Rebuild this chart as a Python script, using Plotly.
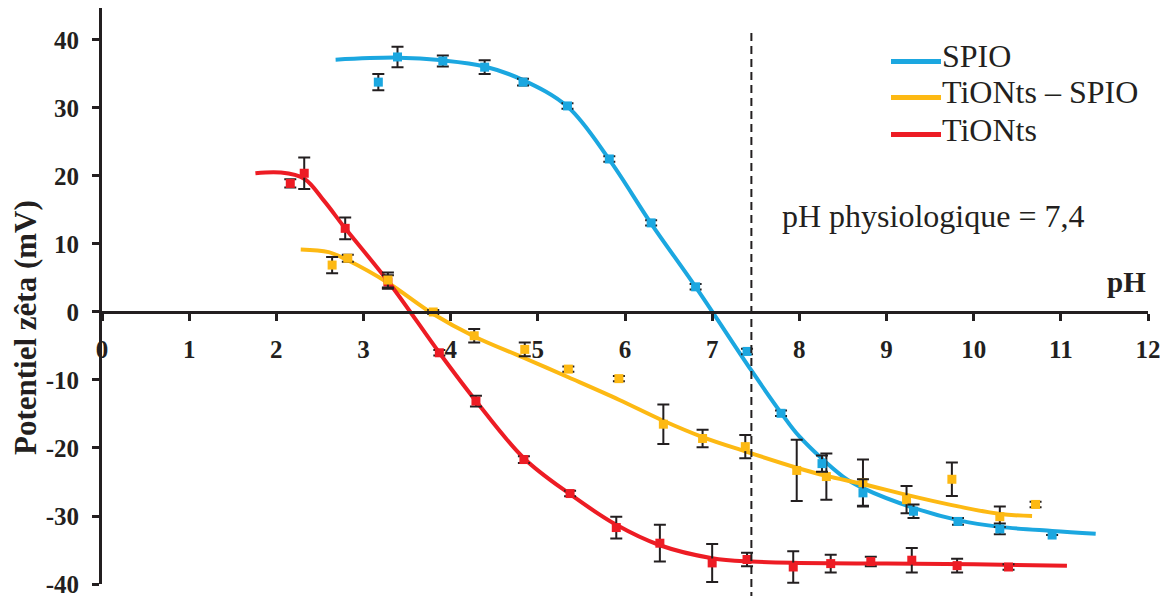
import plotly.graph_objects as go

# ---------------- data ----------------
# SPIO measured points
spio_x = [3.17, 3.39, 3.91, 4.39, 4.83, 5.34, 5.82, 6.30, 6.81, 7.40, 7.79, 8.26, 8.73, 9.31, 9.82, 10.30, 10.90]
spio_y = [33.8, 37.5, 36.9, 36.0, 33.8, 30.3, 22.5, 13.1, 3.7, -5.8, -14.9, -22.3, -26.6, -29.3, -30.8, -31.9, -32.8]
spio_err = [1.2, 1.5, 0.8, 1.0, 0.5, 0.4, 0.4, 0.4, 0.4, 0.4, 0.4, 1.2, 2.0, 1.0, 0.5, 0.8, 0.0]
# SPIO fitted curve
spio_fit_x = [2.68, 3.40, 3.91, 4.39, 4.83, 5.34, 5.82, 6.30, 6.81, 7.45, 7.80, 8.00, 8.50, 8.73, 9.31, 9.82, 10.30, 10.90, 11.40]
spio_fit_y = [37.1, 37.4, 37.0, 36.1, 34.1, 30.2, 22.4, 13.0, 3.7, -8.6, -15.0, -18.3, -24.2, -25.9, -28.8, -30.6, -31.6, -32.2, -32.6]

# TiONts - SPIO measured points
ts_x = [2.64, 2.82, 3.28, 3.80, 4.27, 4.85, 5.35, 5.93, 6.44, 6.89, 7.38, 7.97, 8.31, 8.73, 9.23, 9.75, 10.30, 10.71]
ts_y = [6.9, 7.9, 4.7, 0.0, -3.5, -5.5, -8.4, -9.8, -16.5, -18.6, -19.8, -23.3, -24.2, -25.1, -27.6, -24.6, -30.1, -28.3]
ts_err = [1.2, 0.5, 1.1, 0.3, 1.0, 1.0, 0.4, 0.4, 2.9, 1.3, 1.7, 4.5, 3.4, 3.4, 2.0, 2.45, 1.5, 0.4]
# TiONts - SPIO fitted curve
ts_fit_x = [2.28, 2.60, 2.82, 3.28, 3.80, 4.27, 4.85, 5.35, 5.93, 6.44, 6.89, 7.38, 7.97, 8.31, 8.73, 9.23, 9.75, 10.30, 10.67]
ts_fit_y = [9.2, 8.8, 7.6, 4.3, -0.3, -3.6, -6.8, -9.6, -12.9, -16.0, -18.4, -20.5, -22.9, -24.1, -25.3, -26.9, -28.4, -29.7, -30.0]

# TiONts measured points
ti_x = [2.16, 2.32, 2.79, 3.28, 3.87, 4.29, 4.84, 5.37, 5.90, 6.40, 7.00, 7.40, 7.93, 8.36, 8.82, 9.29, 9.81, 10.40]
ti_y = [18.9, 20.4, 12.3, 4.4, -6.0, -13.1, -21.7, -26.7, -31.7, -34.0, -36.9, -36.4, -37.5, -37.0, -36.7, -36.5, -37.3, -37.5]
ti_err = [0.6, 2.3, 1.6, 1.0, 0.4, 0.8, 0.5, 0.4, 1.6, 2.7, 2.8, 1.0, 2.3, 1.3, 0.7, 1.8, 1.0, 0.4]
# TiONts fitted curve
ti_fit_x = [1.76, 2.05, 2.32, 2.55, 2.79, 3.30, 3.87, 4.29, 4.84, 5.37, 5.90, 6.40, 7.00, 7.45, 8.00, 9.00, 10.00, 11.07]
ti_fit_y = [20.4, 20.5, 19.6, 16.3, 12.3, 4.2, -6.0, -13.1, -21.5, -26.8, -31.3, -34.3, -36.2, -36.7, -36.9, -37.0, -37.1, -37.3]

series_names = ["SPIO", "TiONts \u2013 SPIO", "TiONts"]
x_ticks = list(range(0, 13))
y_ticks = list(range(-40, 41, 10))
ph_physio = 7.45
ph_label = "pH physiologique = 7,4"
x_title = "pH"
y_title = "Potentiel z\u00eata (mV)"

# ---------------- style ----------------
BLUE = "#1ba7e0"
YELLOW = "#fdb913"
RED = "#ed1c24"
INK = "#231f20"
FONT = "Liberation Serif, Times New Roman, serif"

OFF = 8  # page body offset of the figure in the browser
W, H = 1168, 596
ML, MR, MT, MB = 94, 28, 0, 20
PW = W - ML - MR
PHt = H - MT - MB
Y_MIN, Y_MAX = -40, 44.7


def pxx(sx):
    return (sx - OFF - ML) / PW


def pxy(sy):
    return (H - MB - (sy - OFF)) / PHt


fig = go.Figure()

colors = [BLUE, YELLOW, RED]
fits = [(spio_fit_x, spio_fit_y), (ts_fit_x, ts_fit_y), (ti_fit_x, ti_fit_y)]
pts = [(spio_x, spio_y, spio_err), (ts_x, ts_y, ts_err), (ti_x, ti_y, ti_err)]

for (fx, fy), c, n in zip(fits, colors, series_names):
    fig.add_trace(go.Scatter(x=fx, y=fy, mode="lines", name=n,
                             line=dict(color=c, width=4, shape="spline", smoothing=1),
                             showlegend=False, hoverinfo="skip"))

for (x, y, e), c, n in reversed(list(zip(pts, colors, series_names))):
    fig.add_trace(go.Scatter(x=x, y=y, mode="markers", name=n,
                             marker=dict(symbol="square", size=9, color=c),
                             error_y=dict(type="data", array=e, visible=True,
                                          color=INK, thickness=2, width=6),
                             showlegend=False))

# custom legend
leg_y = [61.5, 97.5, 134.5]
shapes = []
annotations = []
for yy, c, n in zip(leg_y, colors, series_names):
    shapes.append(dict(type="line", xref="paper", yref="paper",
                       x0=pxx(891), x1=pxx(941), y0=pxy(yy), y1=pxy(yy),
                       line=dict(color=c, width=5)))
    annotations.append(dict(xref="paper", yref="paper", x=pxx(940), y=pxy(yy - 5),
                            text=n, showarrow=False, xanchor="left", yanchor="middle",
                            font=dict(family=FONT, size=32, color=INK)))

# physiological pH dashed line
shapes.append(dict(type="line", xref="x", yref="paper",
                   x0=ph_physio, x1=ph_physio, y0=pxy(600), y1=pxy(32),
                   line=dict(color=INK, width=2, dash="8px,5px")))

annotations.append(dict(xref="paper", yref="paper", x=pxx(780), y=pxy(216),
                        text=ph_label, showarrow=False, xanchor="left", yanchor="middle",
                        font=dict(family=FONT, size=32, color=INK)))
annotations.append(dict(xref="paper", yref="paper", x=pxx(1148), y=pxy(282),
                        text=x_title, showarrow=False, xanchor="right", yanchor="middle",
                        font=dict(family=FONT, size=29, color=INK, weight="bold")))
annotations.append(dict(xref="paper", yref="paper", x=pxx(25), y=pxy(328),
                        text=y_title, showarrow=False, xanchor="center", yanchor="middle",
                        textangle=-90,
                        font=dict(family=FONT, size=31, color=INK, weight="bold")))

fig.update_layout(
    width=W, height=H,
    margin=dict(l=ML, r=MR, t=MT, b=MB, pad=0, autoexpand=False),
    paper_bgcolor="white", plot_bgcolor="white",
    showlegend=False,
    shapes=shapes, annotations=annotations,
    xaxis=dict(range=[0, 12], tickvals=x_ticks, ticktext=[str(v) for v in x_ticks],
               anchor="free", position=(0 - Y_MIN) / (Y_MAX - Y_MIN),
               showline=True, linecolor=INK, linewidth=3,
               ticks="outside", ticklen=7, tickwidth=3, tickcolor=INK,
               ticklabelstandoff=7,
               tickfont=dict(family=FONT, size=25, color=INK, weight="bold"),
               showgrid=False, zeroline=False, automargin=False),
    yaxis=dict(range=[Y_MIN, Y_MAX], tickvals=y_ticks, ticktext=[str(v) for v in y_ticks],
               showline=True, linecolor=INK, linewidth=3,
               ticks="outside", ticklen=7, tickwidth=3, tickcolor=INK,
               ticklabelstandoff=8,
               tickfont=dict(family=FONT, size=25, color=INK, weight="bold"),
               showgrid=False, zeroline=False, automargin=False),
)

fig.write_html("out.html")
